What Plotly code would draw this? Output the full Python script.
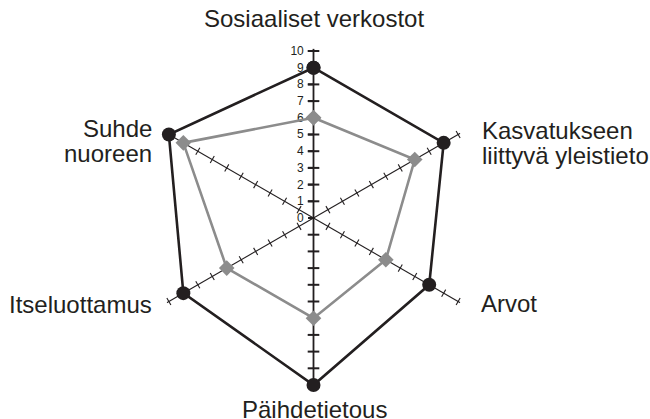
import plotly.graph_objects as go

# ---- data ----
categories = ["Sosiaaliset verkostot", "Kasvatukseen liittyvä yleistieto", "Arvot",
              "Päihdetietous", "Itseluottamus", "Suhde nuoreen"]
label_lines = [["Sosiaaliset verkostot"], ["Kasvatukseen", "liittyvä yleistieto"], ["Arvot"],
               ["Päihdetietous"], ["Itseluottamus"], ["Suhde", "nuoreen"]]
series_black = [9, 9, 8, 10, 9, 10]
series_gray = [6, 7, 5, 6, 6, 9]
radial_tickvals = list(range(0, 11))
radial_ticktext = [str(v) for v in radial_tickvals]

# ---- style ----
W, H = 650, 419
CX, CY, RPX = 313.5, 218.0, 169.5   # center and outer radius in px
RMAX = 10.15
DARK = "#231f20"
GRAY = "#8c8c8c"
FONT = "Liberation Sans, Arial, Helvetica, sans-serif"

fig = go.Figure()

# spokes and tick marks for each category axis
for i, cat in enumerate(categories):
    vertical = (i * 60) % 180 == 0
    fig.add_trace(go.Scatterpolar(
        r=[0, RMAX], theta=[cat, cat], mode="lines",
        line=dict(color=DARK, width=1.8 if vertical else 1.1),
        hoverinfo="skip", showlegend=False))
    ticks_r = radial_tickvals[1:]
    fig.add_trace(go.Scatterpolar(
        r=ticks_r, theta=[cat] * len(ticks_r), mode="markers",
        marker=dict(symbol="line-ew", size=8.3 if vertical else 5.8,
                    angle=i * 60,
                    line=dict(color=DARK, width=2 if vertical else 1.1)),
        hoverinfo="skip", showlegend=False))

def closed(vals):
    return vals + vals[:1]

fig.add_trace(go.Scatterpolar(
    r=closed(series_black), theta=closed(categories), mode="lines+markers",
    line=dict(color=DARK, width=2.6),
    marker=dict(symbol="circle", size=14, color=DARK),
    showlegend=False, name="A"))
fig.add_trace(go.Scatterpolar(
    r=closed(series_gray), theta=closed(categories), mode="lines+markers",
    line=dict(color=GRAY, width=2.6),
    marker=dict(symbol="diamond", size=12, color=GRAY),
    showlegend=False, name="B"))

# category labels (positions in px)
label_pos = [
    [(314, 19, "center")],
    [(480, 130.5, "left"), (480, 155.2, "left")],
    [(479.5, 303.5, "left")],
    [(314, 409, "center")],
    [(154, 304.7, "right")],
    [(154, 128, "right"), (154, 153.5, "right")],
]
annotations = []
for lines, poss in zip(label_lines, label_pos):
    for txt, (px, py, anc) in zip(lines, poss):
        annotations.append(dict(
            x=px / W, y=1 - py / H, xref="paper", yref="paper",
            text=txt, showarrow=False, xanchor=anc, yanchor="middle",
            font=dict(family=FONT, size=24, color=DARK)))

fig.update_layout(
    width=W, height=H, autosize=False,
    margin=dict(l=0, r=0, t=0, b=0),
    paper_bgcolor="white", plot_bgcolor="white",
    font=dict(family=FONT, color=DARK),
    annotations=annotations,
    polar=dict(
        domain=dict(x=[(CX - RPX) / W, (CX + RPX) / W],
                    y=[(H - CY - RPX) / H, (H - CY + RPX) / H]),
        bgcolor="white",
        angularaxis=dict(rotation=90, direction="clockwise", showgrid=False,
                         showline=False, ticks="", showticklabels=False,
                         layer="below traces"),
        radialaxis=dict(range=[0, RMAX], angle=90, side="counterclockwise",
                        showgrid=False, showline=False,
                        tickvals=radial_tickvals, ticktext=radial_ticktext,
                        ticks="outside", ticklen=5, tickwidth=2, tickcolor=DARK,
                        tickfont=dict(family=FONT, size=12, color=DARK),
                        tickangle=90, layer="below traces"),
    ),
)

fig.write_html("out.html", config={"displayModeBar": False},
               post_script="document.body.style.margin='0';document.body.style.padding='0';")
